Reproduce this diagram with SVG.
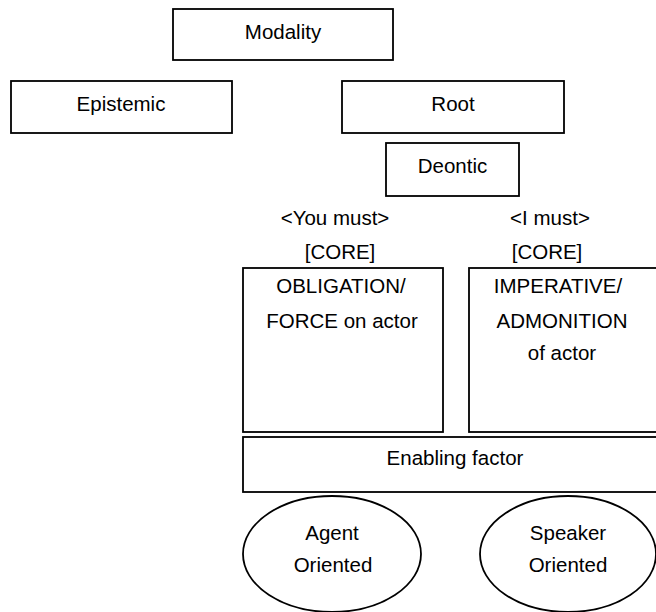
<svg xmlns="http://www.w3.org/2000/svg" width="656" height="612" viewBox="0 0 656 612">
<style>
.b{fill:#fff;stroke:#000;stroke-width:1.8}
text{font-family:"Liberation Sans",Arial,sans-serif;font-size:20.5px;fill:#000;text-anchor:middle}
</style>
<rect width="656" height="612" fill="#fff"/>
<g id="connectors"></g>
<g id="modality"><rect class="b" x="173" y="9" width="220" height="51"/><text x="283" y="39">Modality</text></g>
<g id="epistemic"><rect class="b" x="11" y="81" width="221" height="52"/><text x="121" y="111">Epistemic</text></g>
<g id="root"><rect class="b" x="342" y="81" width="222" height="52"/><text x="453" y="111">Root</text></g>
<g id="deontic"><rect class="b" x="386" y="143" width="133" height="53"/><text x="452.5" y="173">Deontic</text></g>
<g id="you-must"><text x="335" y="225">&lt;You must&gt;</text><text x="340" y="259">[CORE]</text></g>
<g id="i-must"><text x="550" y="225">&lt;I must&gt;</text><text x="547" y="259">[CORE]</text></g>
<g id="obligation"><rect class="b" x="243" y="268" width="200" height="164"/><text x="341" y="293">OBLIGATION/</text><text x="342" y="328">FORCE on actor</text></g>
<g id="imperative"><rect class="b" x="469" y="268" width="200" height="164"/><text x="558" y="293">IMPERATIVE/</text><text x="562" y="328">ADMONITION</text><text x="562" y="360">of actor</text></g>
<g id="enabling"><rect class="b" x="243" y="437" width="430" height="55"/><text x="455" y="465">Enabling factor</text></g>
<g id="agent"><ellipse class="b" cx="332" cy="554" rx="89" ry="58"/><text x="332" y="540">Agent</text><text x="333" y="572">Oriented</text></g>
<g id="speaker"><ellipse class="b" cx="568" cy="554" rx="88" ry="58"/><text x="568" y="540">Speaker</text><text x="568" y="572">Oriented</text></g>
</svg>
